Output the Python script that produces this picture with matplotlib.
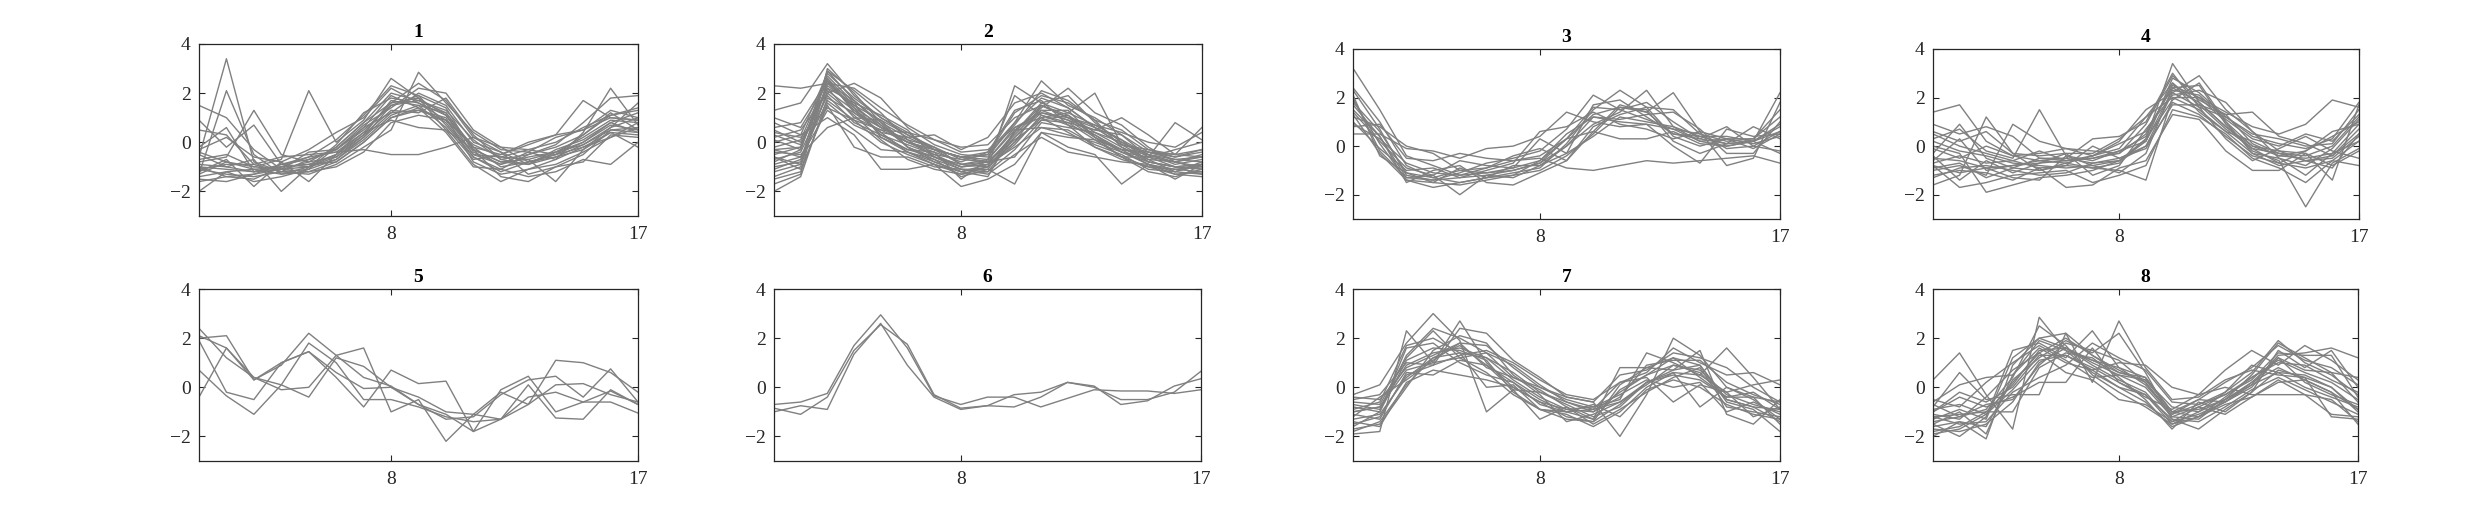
import numpy as np
import matplotlib
matplotlib.use("Agg")
import matplotlib.pyplot as plt

# time points 1..17, one list of profiles per cluster
time_points = list(range(1, 18))
x_ticks = [8, 17]
y_ticks = [-2, 0, 2, 4]
titles = ['1', '2', '3', '4', '5', '6', '7', '8']

cluster1 = [
    [-1.0, -1.1, -1.2, -1.0, -0.9, -0.5, 0.4, 1.6, 1.8, 1.1, -0.3, -0.8, -0.7, -0.4, 0.2, 0.9, 0.8],
    [-0.6, 3.4, -0.8, -1.2, -0.7, -0.3, 0.6, 1.9, 1.4, 0.8, -0.6, -1.1, -0.5, -0.2, 0.3, 1.2, 0.5],
    [-1.3, 2.1, -0.5, -1.3, -1.0, -0.6, 0.2, 1.2, 2.0, 1.5, 0.0, -0.4, -0.9, -0.6, -0.1, 0.6, 1.0],
    [1.5, 1.0, -0.3, -1.1, -1.2, -0.8, 0.0, 1.0, 1.3, 0.9, -0.5, -0.6, -0.3, 0.0, 0.6, 1.1, 1.4],
    [-2.0, -1.2, -1.6, -1.4, -1.1, -0.2, 0.8, 2.0, 1.7, 1.2, -0.2, -1.0, -0.8, -0.6, -0.3, 0.4, 0.3],
    [-0.4, -0.8, -1.0, -0.7, 2.1, 0.0, 0.9, 2.6, 1.8, 0.5, -0.9, -1.6, -1.1, -0.9, -0.4, 0.2, 0.6],
    [-1.1, -1.3, -1.4, -1.2, -1.3, -0.9, -0.2, 0.5, 2.85, 1.6, 0.4, -0.3, -0.4, 0.2, 0.5, 1.0, 0.9],
    [0.5, 0.3, -0.9, -0.6, -0.5, -0.4, -0.3, -0.5, -0.5, -0.2, 0.2, -0.4, -1.3, -1.0, -0.8, 0.3, 0.2],
    [-0.8, -0.6, 1.3, -0.5, -0.8, -0.6, 0.3, 1.3, 1.2, 1.8, 0.3, -0.7, -0.9, -0.3, 0.1, 0.8, 0.4],
    [-1.5, -1.6, -1.3, -1.1, -1.0, -0.7, 0.1, 1.1, 1.5, 1.2, -0.3, -1.4, -1.6, -1.0, -0.5, 0.5, 0.6],
    [-0.2, 0.6, -1.2, -0.9, -0.7, -0.3, 0.7, 1.4, 2.2, 2.0, 0.5, -0.2, -0.3, -0.5, 0.0, 0.8, 1.2],
    [-1.2, -0.7, -1.8, -0.8, -1.6, -0.5, 0.3, 1.7, 1.5, 0.6, -0.7, -0.5, -0.1, 0.3, 1.7, 1.0, 0.9],
    [-0.9, -1.0, -0.7, -2.0, -1.0, -0.1, 1.2, 1.8, 1.6, 1.1, -0.5, -0.9, -0.4, -0.7, 0.4, 2.2, 0.7],
    [0.9, -0.2, 0.7, -0.9, -0.6, 0.1, 1.1, 2.3, 1.9, 0.7, -0.6, -1.2, -0.8, -0.5, -0.2, 0.4, -0.2],
    [-1.4, -1.2, -1.1, -1.3, -1.2, -1.0, -0.4, 0.8, 1.1, 0.9, -0.1, -0.6, -0.7, -1.6, -0.3, 0.6, 1.6],
    [-0.7, -0.5, -1.0, -1.1, -0.4, -0.3, 0.5, 1.5, 1.7, 1.3, 0.1, -0.7, -0.5, -0.1, 0.8, 1.8, 1.9],
    [-1.6, -1.4, -1.5, -1.0, -0.9, -0.8, 0.0, 1.0, 1.4, 0.4, -1.0, -1.1, -1.4, -1.2, -0.7, -0.9, 0.0],
    [-0.3, 0.2, -0.6, -0.8, -0.3, 0.4, 1.0, 2.2, 1.6, 0.9, -0.2, -0.5, 0.0, 0.3, 0.5, 1.3, 1.0],
    [-1.1, -0.9, -0.9, -1.2, -1.1, -0.7, 0.2, 1.5, 1.9, 1.4, -0.4, -0.9, -0.6, -0.4, 0.0, 0.7, 0.5],
    [-1.0, -1.4, -1.3, -0.9, -1.0, -0.5, 0.6, 1.2, 1.3, 1.0, -0.8, -1.3, -1.1, -0.7, -0.2, 0.2, 0.8],
    [-0.5, -1.0, -1.2, -1.1, -0.8, -0.2, 0.8, 1.6, 2.4, 1.7, 0.2, -0.2, -0.8, -0.5, 0.3, 1.1, 1.3],
    [-1.3, -0.8, -1.1, -1.0, -0.6, -0.4, 0.4, 0.9, 0.6, 0.5, -0.3, -0.8, -0.9, -0.4, -0.1, 0.5, 0.4],
]

cluster2 = [
    [-0.5, -0.2, 2.6, 1.5, 0.6, 0.0, -0.5, -1.0, -0.9, 0.4, 1.5, 1.1, 0.4, -0.2, -0.8, -1.0, -0.9],
    [2.3, 2.2, 2.4, 1.7, 0.8, 0.2, -0.3, -0.6, -0.4, 0.8, 1.8, 1.4, 0.6, 0.1, -0.5, -0.7, -0.6],
    [1.3, 1.6, 3.2, 1.9, 1.0, 0.3, -0.2, -0.7, -0.8, 0.2, 1.2, 0.9, 0.2, -0.4, -0.9, -1.1, -1.0],
    [-2.0, -1.4, 1.8, 1.2, 0.4, -0.4, -0.9, -1.3, -1.2, -0.3, 0.9, 0.8, 0.1, -0.6, -1.0, -1.3, -1.2],
    [-1.0, -0.8, 2.9, 2.1, 1.2, 0.1, -0.6, -0.9, -1.0, 2.3, 1.6, 1.9, 0.8, 0.0, -0.6, -0.8, -0.5],
    [0.2, 0.5, 2.0, 2.4, 1.8, 0.6, -0.1, -0.5, -0.6, 0.8, 2.5, 1.5, 1.0, 0.3, -0.4, -0.6, -0.3],
    [-0.3, -0.6, 1.3, 0.5, -0.3, -0.4, -0.7, -1.4, -1.1, -1.7, 0.4, 0.2, 0.1, -0.3, -0.5, -0.8, -1.1],
    [-1.4, -1.0, 2.5, 1.4, 0.7, -0.2, -0.8, -1.2, -1.0, 0.0, 1.0, 1.2, 2.0, -0.1, -0.7, -1.2, -1.3],
    [0.8, 0.3, 1.0, 0.3, -1.1, -1.1, -0.9, -1.8, -1.5, -0.9, 0.4, -0.2, -0.5, -1.7, -0.9, -1.5, -0.9],
    [-0.8, -0.3, 2.7, 1.6, 0.2, -0.3, -0.4, -0.8, -0.4, 1.3, 1.7, 0.7, 0.3, -0.4, -0.6, 0.8, 0.1],
    [0.5, 0.0, 2.2, 1.0, 0.5, 0.0, -0.3, -0.6, -0.7, 0.6, 1.2, 1.0, 0.6, -0.1, -0.3, -0.6, -0.4],
    [-0.6, -1.1, 1.5, -0.2, -0.6, -0.6, -1.0, -1.1, -1.3, -0.5, 0.2, -0.4, -0.6, -0.8, -0.9, -1.3, -1.4],
    [-1.2, -0.9, 2.1, 1.3, 0.4, 0.2, 0.3, -0.3, 0.2, 1.6, 2.0, 1.4, 0.6, -0.1, -0.4, -0.5, 0.6],
    [0.0, 0.3, 2.8, 1.8, 1.0, 0.4, -0.3, -0.6, -0.8, 0.3, 1.4, 2.2, 1.2, 0.7, -0.2, -0.8, -0.6],
    [-0.9, -0.6, 1.7, 0.9, 0.0, -0.5, -0.9, -1.2, -0.9, -0.2, 0.6, 0.5, -0.1, -0.5, -1.1, -1.2, -0.9],
    [1.0, 0.6, 2.4, 2.2, 1.4, 0.7, 0.1, -0.2, -0.1, 1.0, 1.5, 1.0, 0.7, 0.4, 0.0, -0.2, 0.4],
    [-0.4, -0.5, 0.6, 1.0, 0.9, 0.3, -0.3, -0.9, -0.7, 1.9, 1.1, 0.8, 0.5, 0.3, -0.6, -1.0, -1.1],
    [-1.7, -1.3, 3.0, 2.0, 0.8, -0.2, -0.7, -1.1, -1.2, 0.2, 1.3, 1.3, 0.2, -0.6, -1.2, -1.4, -1.1],
    [0.3, -0.1, 2.3, 1.5, 0.9, -0.2, -0.6, -1.0, -0.8, -0.6, 0.8, 0.6, 0.4, 0.0, -0.5, -0.9, -0.7],
    [-0.7, -0.4, 1.9, 0.8, 0.3, -0.1, -0.5, -0.7, -0.5, 0.7, 2.1, 1.7, 0.9, -0.2, -0.7, -0.8, -1.0],
    [-0.2, 0.1, 2.6, 1.2, 0.6, 0.0, -0.4, -1.5, -0.7, 0.5, 1.3, 0.9, 0.5, 1.0, 0.3, -0.5, -0.6],
    [-1.1, -0.7, 2.0, 1.1, 0.1, -0.7, -1.1, -1.3, -1.0, -0.1, 1.1, 0.7, -0.2, -0.7, -1.0, -1.1, -1.2],
    [0.6, 0.8, 2.5, 1.3, 0.6, 0.1, -0.2, -0.9, -0.8, 0.1, 0.9, 1.1, 0.2, -0.3, -0.4, -0.7, -0.8],
    [-0.3, -0.2, 2.2, 1.6, 1.1, 0.5, -0.6, -1.1, -1.1, 0.4, 1.6, 1.2, 0.7, 0.1, -0.8, -1.0, -0.9],
    [-1.5, -1.2, 1.6, 0.7, 0.2, -0.4, -0.8, -1.2, -1.4, 0.5, 0.6, 0.3, 0.0, -0.4, -0.8, -1.0, -1.3],
    [0.1, -0.3, 2.9, 1.7, 0.7, 0.0, -0.3, -0.6, -0.5, 1.2, 1.9, 1.6, 0.9, 0.5, -0.3, -0.5, -0.3],
    [-0.6, -0.9, 2.4, 1.4, 0.3, -0.3, -0.6, -1.0, -0.9, 0.0, 1.5, 1.0, 0.3, -0.3, -0.9, -1.2, -0.8],
    [0.4, 0.2, 1.4, 0.9, 0.5, 0.4, 0.1, -0.4, -0.3, 0.6, 1.0, 0.4, -0.2, -0.6, -0.6, -0.3, 0.0],
]

cluster3 = [
    [3.2, 1.5, -0.4, -0.8, -1.2, -1.1, -0.9, -0.6, 0.3, 1.3, 1.6, 1.4, 0.5, 0.3, 0.1, 0.2, 0.9],
    [2.3, 0.7, -1.2, -1.4, -1.3, -1.2, -1.0, -0.7, 0.0, 0.9, 1.4, 2.3, 0.8, 0.4, 0.1, 0.2, 2.2],
    [1.9, 0.1, -1.4, -1.7, -1.5, -1.3, -1.1, -0.9, 0.1, 1.5, 2.3, 1.6, 0.4, 0.0, 0.3, -0.1, 0.5],
    [1.2, 0.8, 0.0, -0.3, -1.0, -0.9, -0.6, -0.4, 0.3, 0.6, 1.7, 1.4, 2.2, 0.6, 0.3, 0.3, 1.2],
    [0.5, 0.5, -0.1, -0.2, -0.5, -0.1, 0.0, 0.4, 1.4, 1.0, 0.8, 0.9, 0.7, 0.2, 0.0, 0.2, -0.3],
    [2.0, -0.2, -1.3, -1.2, -2.0, -1.2, -1.3, -0.8, -0.3, 1.7, 1.9, 1.2, 0.5, 0.4, 0.4, 0.2, 0.8],
    [1.5, 0.4, -1.5, -1.0, -0.8, -1.5, -1.6, -1.1, -0.6, 0.8, 1.3, 1.6, 1.5, 0.5, -0.1, 0.0, 0.6],
    [0.8, 0.9, -0.5, -0.6, -0.3, -0.5, -0.6, -0.5, -0.9, -1.0, -0.8, -0.6, -0.7, -0.6, -0.5, -0.4, -0.7],
    [2.1, -0.4, -1.1, -1.5, -1.6, -1.4, -1.2, -0.6, 0.5, 1.2, 1.0, 0.9, 0.0, -0.7, 0.7, 0.4, 0.5],
    [1.4, 0.2, -0.9, -1.2, -0.6, -0.8, -0.9, 0.3, -0.3, 0.4, 1.2, 1.0, 0.8, 0.2, 0.3, 0.1, 0.4],
    [1.0, -0.1, -1.0, -0.9, -1.3, -1.0, -0.7, 0.6, 0.8, 1.4, 0.9, 0.7, 0.3, 0.6, -0.8, -0.5, 1.8],
    [1.7, 0.4, -1.3, -1.4, -1.1, -0.7, -0.5, -0.2, 0.7, 2.1, 1.5, 1.8, 1.0, 0.3, 0.8, 0.0, -0.2],
    [2.4, 1.0, -0.8, -1.3, -1.5, -1.3, -1.2, -1.0, -0.4, 0.5, 1.6, 1.5, 0.2, -0.3, 0.1, 0.8, 0.3],
    [1.3, -0.3, -1.4, -1.5, -0.9, -1.3, -0.8, -0.8, 0.0, 1.2, 1.1, 1.3, 1.4, 0.7, -0.3, -0.3, 1.0],
    [0.9, 0.3, -0.7, -1.1, -1.2, -0.9, -0.4, -0.1, -0.6, 0.6, 0.3, 0.3, 0.6, 0.1, 0.0, 0.2, 0.6],
    [1.8, 0.6, -1.1, -1.3, -1.0, -1.1, -1.0, -0.7, 0.3, 1.6, 1.5, 1.1, 0.7, 0.5, 0.2, 0.3, 1.5],
]

cluster4 = [
    [-0.5, -0.6, -0.9, -0.8, -0.7, -0.6, -0.5, -0.3, 0.5, 2.5, 2.0, 1.0, 0.0, -0.4, -0.5, -0.3, 0.9],
    [1.4, 1.7, 0.2, -0.4, -0.6, -0.5, -0.7, -0.6, 0.3, 3.4, 1.8, 0.8, -0.1, -0.3, -0.4, 0.0, 1.2],
    [-1.6, -1.2, 1.2, -0.3, -1.0, -0.8, -0.9, -1.0, -1.4, 2.0, 1.5, 0.6, -0.3, -0.8, -0.6, -0.5, 0.4],
    [0.3, 0.7, -0.2, -0.5, 1.5, -0.4, -0.6, -0.2, 0.2, 2.8, 2.2, 1.2, 0.4, 0.1, -0.1, 0.3, 1.8],
    [-0.8, -1.7, -1.5, -1.2, -1.1, -1.0, -1.5, -1.2, -0.8, 1.5, 1.2, 0.5, -0.5, -0.9, -1.5, -0.6, 0.2],
    [0.0, -0.3, -1.9, -1.6, -1.3, -1.2, -1.0, -0.6, 0.0, 2.2, 2.9, 1.5, 0.6, -0.2, -0.3, -0.8, -0.2],
    [-1.0, -0.8, -1.2, 0.9, 0.2, -0.1, -0.4, -0.1, 1.2, 2.6, 1.7, 1.3, 1.4, 0.4, 0.1, -0.4, 0.5],
    [-0.3, 0.9, -0.5, -0.9, -1.0, -0.7, -0.4, 0.1, 0.6, 2.4, 2.5, 0.9, -0.2, -0.6, -2.5, -0.7, -0.1],
    [-1.2, -1.0, -1.1, -1.4, -0.9, -1.7, -1.6, -0.9, -0.6, 1.3, 1.1, -0.2, -1.0, -1.0, -0.3, -1.4, 1.7],
    [0.6, 0.2, 0.6, -0.3, -0.4, -0.3, -0.3, 0.3, 1.2, 2.0, 2.0, 1.4, 0.8, 0.5, 0.9, 1.9, 1.6],
    [-0.7, -0.4, -0.7, -0.6, -0.9, -0.8, 0.0, -0.5, 0.0, 1.7, 1.7, 0.7, -0.1, -0.7, -0.2, 0.6, 0.9],
    [0.9, 0.5, 0.8, 0.4, -0.5, -0.5, 0.3, 0.4, 1.0, 3.0, 1.6, 0.3, -0.6, -0.1, 0.4, -0.2, -0.5],
    [-0.4, -1.4, -0.6, -1.1, -0.7, -0.3, -1.2, -0.8, 0.7, 2.1, 2.3, 1.8, 0.6, -0.5, -0.8, -0.1, 1.1],
    [-0.9, -0.7, -1.3, -0.9, -0.5, -0.6, -0.5, -0.2, 0.4, 2.6, 1.4, 0.6, 0.2, -0.3, -0.6, -0.4, 0.7],
    [0.2, -0.2, -0.4, -0.7, -0.8, -0.9, -0.8, -0.6, 0.2, 2.3, 2.1, 1.1, 0.3, 0.0, 0.5, 0.2, 1.3],
    [-1.3, -0.9, -0.8, -1.0, -1.2, -1.1, -0.7, -0.5, -0.1, 1.8, 1.3, 0.4, -0.4, -0.7, -0.9, -0.6, -0.8],
    [-0.1, -0.5, 0.0, -0.4, -0.3, -0.1, -0.2, -0.3, 0.9, 2.9, 1.9, 1.3, 0.1, -0.4, -0.2, 0.4, 1.0],
    [-0.6, 0.3, -1.0, -0.8, -0.6, -0.7, -0.9, -0.7, 0.3, 1.9, 2.6, 1.0, -0.3, -0.5, -1.2, -0.3, 0.2],
    [-0.8, -1.1, -0.9, -1.3, -1.4, -0.4, -0.8, -1.1, -0.3, 2.4, 1.8, 0.8, 0.0, -0.2, -0.6, -0.9, 0.5],
    [0.5, 0.0, -0.3, -0.6, -0.2, -0.6, -0.4, 0.2, 1.5, 2.2, 1.6, 1.2, 0.5, 0.3, 0.0, 0.1, 1.5],
]

cluster5 = [
    [2.4, 1.2, 0.4, 0.1, -0.4, 1.2, 0.85, 0.0, -0.4, -1.0, -1.1, -1.3, -0.7, 1.1, 1.0, 0.6, -0.2],
    [2.0, 2.1, 0.3, 1.0, 1.45, 0.4, -0.8, 0.7, 0.15, 0.25, -1.8, -0.1, 0.45, -1.0, -0.6, -0.15, -0.7],
    [2.1, 1.6, 0.4, -0.1, 0.0, 1.3, 0.4, 0.05, -0.7, -1.3, -1.2, -0.3, 0.3, 0.45, -0.4, 0.75, -0.6],
    [0.7, -0.35, -1.1, 0.1, 1.8, 1.0, -0.5, -0.5, -0.8, -1.2, -1.4, -1.3, 0.1, -1.25, -1.3, -0.1, -0.7],
    [-0.4, 1.6, 0.3, 0.9, 2.2, 1.3, 1.6, -1.0, -0.5, -2.2, -1.1, -0.2, -0.7, 0.1, 0.15, -0.3, -0.6],
    [1.9, -0.2, -0.5, 1.0, 1.45, 0.6, -0.05, 0.0, -0.7, -1.1, -1.8, -1.3, -0.4, -0.2, -0.6, -0.6, -1.05],
]

cluster6 = [
    [-0.7, -0.6, -0.25, 1.7, 2.95, 1.6, -0.35, -0.7, -0.4, -0.4, -0.8, -0.45, -0.1, -0.15, -0.15, -0.25, -0.1],
    [-0.85, -1.1, -0.4, 1.5, 2.55, 1.75, -0.3, -0.85, -0.75, -0.3, -0.2, 0.2, 0.05, -0.7, -0.55, 0.05, 0.35],
    [-1.0, -0.75, -0.9, 1.35, 2.6, 0.9, -0.4, -0.9, -0.75, -0.8, -0.4, 0.2, 0.0, -0.5, -0.5, -0.2, 0.65],
]

cluster7 = [
    [-1.0, -0.8, 0.9, 1.4, 1.6, 1.2, 0.3, -0.4, -0.9, -1.0, -0.2, 0.5, 0.9, 0.7, -0.3, -0.7, -1.0],
    [-1.9, -1.8, 2.3, 1.0, 2.7, 1.0, 0.0, -0.6, -1.2, -1.4, 0.1, 0.8, 1.2, 0.9, -0.6, -0.9, -1.8],
    [-0.3, 0.1, 1.8, 3.0, 1.9, -1.0, -0.1, -0.2, -0.7, -1.2, -0.8, 0.2, 0.5, 0.3, -0.4, -0.4, -0.6],
    [-1.5, -1.2, 0.5, 0.9, 2.4, 2.2, 1.1, 0.4, -0.4, -0.6, -2.0, -0.3, 2.0, 1.3, 0.0, -0.5, -1.3],
    [-0.6, -0.7, 1.2, 2.3, 1.2, 0.6, -0.3, -0.9, -1.0, -1.3, 0.8, 0.8, 0.7, 1.5, -1.1, -1.5, -0.5],
    [-1.2, -0.4, 0.3, 1.1, 1.8, 1.7, 0.8, 0.0, -0.5, -0.8, -0.5, 1.4, 1.0, 0.5, 1.6, 0.4, -0.9],
    [-0.8, -1.0, 1.6, 1.8, 1.0, 0.5, 0.2, -0.5, -1.0, -0.9, 0.2, 0.4, -0.6, 0.1, -0.2, 0.1, 0.3],
    [-1.7, -1.5, 0.0, 1.5, 2.1, 1.8, 0.5, -0.3, -1.4, -1.1, -0.6, 0.1, 0.9, 0.6, -0.5, -0.8, -1.4],
    [-0.5, -0.3, 1.0, 0.9, 1.3, 1.5, 1.0, 0.3, -0.3, -0.5, 0.2, 0.6, 1.6, 1.0, 0.5, 0.6, 0.1],
    [-1.3, -1.1, 0.4, 1.2, 1.7, 0.9, -0.1, -1.3, -0.8, -1.5, -0.9, -0.2, 0.4, 0.8, -0.8, -1.0, -1.2],
    [-0.9, -0.6, 1.7, 2.0, 1.4, 1.2, 0.6, -0.2, -0.6, -1.0, -0.4, 0.9, 1.1, 1.1, 0.2, -0.3, -0.7],
    [-1.1, -1.3, 0.6, 0.5, 1.1, 0.9, 0.2, -0.7, -1.0, -0.7, -1.2, -0.1, 0.3, 0.0, -0.7, -1.1, -1.3],
    [-0.7, -0.9, 1.3, 2.4, 2.0, 1.4, 0.4, -0.1, -0.8, -1.3, -0.1, 0.5, 1.2, 0.4, -0.4, -0.2, -0.9],
    [-1.4, -1.6, 0.2, 0.7, 0.5, 0.3, 0.0, -0.6, -0.9, -0.8, -0.3, 0.3, 0.0, 0.2, -1.0, -0.6, -1.1],
    [-1.6, -1.0, 1.1, 1.6, 1.5, 1.1, -0.2, -0.9, -1.1, -1.6, -1.0, 0.0, 0.6, -0.8, 0.0, -0.4, -1.5],
    [-0.4, -0.5, 0.8, 1.3, 1.8, 0.8, 0.4, 0.0, -0.4, -0.6, 0.5, 0.7, 1.4, 1.2, 0.8, 0.0, -0.6],
    [-1.0, -0.8, 0.7, 1.0, 1.2, 1.4, 0.9, 0.1, -0.6, -0.9, -0.6, 0.2, 0.7, 0.9, -0.5, -0.8, -0.9],
    [-1.8, -1.4, 0.1, 1.2, 1.4, 0.0, 0.1, -0.9, -1.3, -1.4, -0.7, 0.2, 0.6, 0.5, -0.2, -1.2, -0.8],
]

cluster8 = [
    [-1.2, -1.1, -1.0, 0.1, 1.5, 1.6, 1.0, 0.5, 0.0, -1.2, -0.8, -0.3, 0.4, 1.1, 0.6, 0.2, -0.5],
    [0.3, 1.4, -0.3, -1.7, 2.85, 1.5, 0.6, 0.0, -0.3, -1.5, -1.0, -0.5, 0.2, 0.8, 0.3, -0.2, -0.9],
    [-2.0, -1.4, -2.1, 0.9, 2.0, 2.2, 1.3, 0.7, 0.2, -1.1, -0.7, -0.2, 0.6, 1.9, 1.0, 0.5, -0.3],
    [-1.5, -2.0, -1.2, 1.5, 1.8, 1.2, 2.3, 0.8, 0.4, -1.0, -1.2, -0.6, 0.1, 1.3, 1.4, 1.6, 1.2],
    [-0.8, 0.6, -0.5, -0.3, -0.3, 2.2, 0.2, 2.7, 0.8, -0.5, -0.4, 0.3, 0.7, 0.5, 0.4, 0.0, -1.0],
    [-1.6, -1.4, -1.6, 0.3, 1.2, 1.9, 1.4, 2.2, 0.6, -1.3, -1.7, -0.9, -0.2, 1.5, 0.8, 1.5, 0.0],
    [-1.0, -0.4, -0.8, -0.4, 0.2, 0.2, 1.6, 0.2, -0.4, -0.9, -0.3, 0.0, -0.3, -0.3, -0.3, -0.5, -1.4],
    [-1.3, -0.9, -1.3, 1.2, 2.0, 1.6, 0.9, 0.3, -0.2, -1.4, -1.1, -0.6, 0.2, 1.2, 0.2, -0.3, -0.7],
    [-0.6, 0.1, 0.4, 0.5, 1.6, 1.0, 0.7, 1.0, 0.9, 0.0, -0.3, 0.7, 1.5, 0.9, 1.7, 1.1, 0.3],
    [-1.8, -1.6, -1.0, -1.0, 0.8, 1.4, 1.2, 0.4, -0.5, -1.7, -0.6, -1.0, -0.2, 0.7, 0.4, -1.2, -1.3],
    [-1.1, -1.3, -0.4, 0.7, 1.4, 2.0, 1.3, 0.6, 0.3, -1.0, -0.9, -0.5, 0.5, 1.8, 1.2, 0.6, 0.4],
    [-0.9, -0.7, -1.1, -0.1, 1.1, 1.3, 0.8, 0.2, -0.3, -1.3, -1.4, -0.8, -0.1, 0.4, -0.1, -0.6, -1.1],
    [-1.4, -1.2, -0.9, 0.4, 2.5, 1.7, 0.5, -0.2, -0.8, -1.5, -1.2, -0.4, 0.4, 1.0, 0.9, 0.3, -0.2],
    [-1.7, -1.8, -1.5, -0.6, 1.0, 1.6, 1.1, 0.8, 0.1, -1.1, -0.5, -0.6, 0.0, 1.2, 0.7, 0.6, -0.6],
    [-0.5, -0.8, 0.2, 1.0, 1.7, 1.1, 0.4, 0.5, 0.3, -0.8, -1.0, -0.2, 0.9, 0.6, 0.0, -0.4, -0.8],
    [-1.2, -1.5, -1.4, -0.2, 0.4, 0.9, 1.8, 1.2, 0.7, -0.6, -0.7, -0.3, 0.3, 1.4, 1.3, 1.3, -0.4],
    [-1.0, -0.2, -0.6, 0.0, 1.3, 1.3, 0.7, 0.0, -0.6, -1.6, -1.2, -0.7, -0.4, 0.2, 0.3, -0.2, -1.5],
    [-1.5, -1.0, -1.9, 0.5, 1.9, 1.5, 1.1, 0.6, 0.4, -1.0, -0.5, 0.2, 0.8, 1.7, 1.1, 0.8, 0.1],
    [-0.7, -1.2, -0.7, -0.5, 0.9, 1.8, 1.5, 1.1, 0.2, -1.2, -1.3, -0.5, 0.1, 0.6, 0.5, 0.0, -0.9],
    [-1.9, -1.7, -1.1, 0.2, 1.4, 0.6, 0.3, -0.5, -0.7, -1.4, -0.8, -1.1, -0.4, 0.3, -0.3, -1.1, -1.2],
]

clusters = [cluster1, cluster2, cluster3, cluster4,
            cluster5, cluster6, cluster7, cluster8]

# axes boxes [left, bottom, width, height] in figure fraction
positions = [
    [0.0804, 0.5886, 0.1774, 0.3276],
    [0.3127, 0.5886, 0.1729, 0.3276],
    [0.5467, 0.5829, 0.1725, 0.3238],
    [0.7810, 0.5829, 0.1721, 0.3238],
    [0.0804, 0.1219, 0.1774, 0.3276],
    [0.3127, 0.1219, 0.1725, 0.3276],
    [0.5467, 0.1219, 0.1725, 0.3276],
    [0.7810, 0.1219, 0.1717, 0.3276],
]

plt.rcParams['font.family'] = ['Liberation Serif', 'DejaVu Serif']
dark = '#262626'

fig = plt.figure(figsize=(24.75, 5.25), dpi=100)
for title, data, pos in zip(titles, clusters, positions):
    ax = fig.add_axes(pos)
    ax.plot(time_points, np.array(data).T, color='#808080', lw=1.0)
    ax.set_xlim(1, 17)
    ax.set_ylim(-3, 4)
    ax.set_xticks(x_ticks)
    ax.set_yticks(y_ticks)
    ax.tick_params(direction='in', top=True, right=True, length=4,
                   width=0.8, colors=dark, labelsize=14)
    ax.tick_params(axis='x', pad=7)
    ax.tick_params(axis='y', pad=6)
    for s in ax.spines.values():
        s.set_color(dark)
        s.set_linewidth(0.9)
    ax.set_title(title, fontsize=14, fontweight='bold', pad=5)

fig.savefig('out.png', dpi=100)
